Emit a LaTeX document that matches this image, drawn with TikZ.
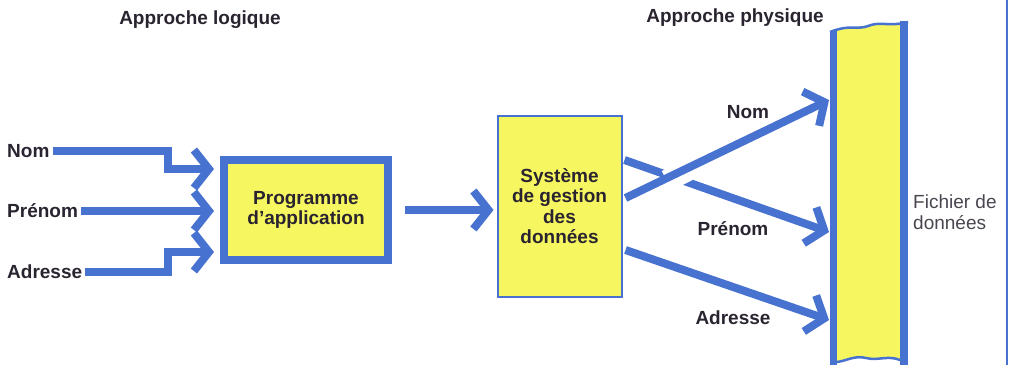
\documentclass[tikz,border=0pt]{standalone}
\usepackage{fontspec}
\setmainfont{Liberation Sans}
\usetikzlibrary{positioning,calc,arrows.meta}
\definecolor{dblue}{RGB}{72,114,208}
\definecolor{dyellow}{RGB}{246,246,96}
\definecolor{dtext}{RGB}{42,36,48}
\tikzset{
	flow/.style={line width=8pt, dblue, -{Straight Barb[length=15pt, width=38pt]}},
	word/.style={font=\fontsize{19}{21}\selectfont\bfseries, text=dtext, inner sep=3pt},
	box/.style={draw=dblue, fill=dyellow, align=center, font=\fontsize{19}{20.5}\selectfont\bfseries, text=dtext}
}
\begin{document}
\begin{tikzpicture}[x=1pt, y=-1pt]
						\useasboundingbox (0,0) rectangle (1011,365);
						\node[word] (tlog) at (200,20) {Approche logique};
						\node[word] (tphy) at (735,18) {Approche physique};
						\node[word, anchor=west] (nom) at (4,151) {Nom};
						\node[word, anchor=west] (pre) at (4,211) {Prénom};
						\node[word, anchor=west] (adr) at (4,272) {Adresse};
						\node[box, line width=8pt, minimum width=164pt, minimum height=100pt] (prog) at (306,210) {Programme\\d'application};
						\node[box, line width=2pt, minimum width=124pt, minimum height=181pt] (sgd) at (559.5,206) {Système\\de gestion\\des\\données};
						\fill[dyellow] (837,365) -- (837,30) .. controls (850,24) and (858,30) .. (868,26) .. controls (880,21) and (890,27) .. (900,24) -- (900,360) .. controls (888,355) and (878,361) .. (866,358) .. controls (855,355) and (846,361) .. (837,362) -- cycle;
						\draw[dblue, line width=7pt] (833.5,365) -- (833.5,31);
						\draw[dblue, line width=8pt] (904,365) -- (904,21);
						\draw[dblue, line width=2.5pt] (830,32) .. controls (850,24) and (858,30) .. (868,26) .. controls (880,21) and (890,27) .. (908,22);
						\draw[dblue, line width=2.5pt] (837,362) .. controls (846,361) and (855,355) .. (866,358) .. controls (878,361) and (888,355) .. (900,360);
						\node[font=\fontsize{19}{21}\selectfont, text=dtext!85, align=left, anchor=west, inner sep=0pt] (fich) at (913,212) {Fichier de\\données};
						\draw[dblue, line width=1.5pt] (1007,0) -- (1007,365);
						\coordinate (fnom) at (829,100);
						\coordinate (fpre) at (829,232);
						\coordinate (fadr) at (829,320);
						\draw[flow] (nom.east) -| ($(prog.west)+(-52,-41)$) -- ($(prog.west)+(-6,-41)$);
						\draw[flow] (pre.east) -- ([xshift=-6pt]pre.east -| prog.west);
						\draw[flow] (adr.east) -| ($(prog.west)+(-52,42)$) -- ($(prog.west)+(-6,42)$);
						\draw[flow] ([xshift=13pt]prog.east) -- ([xshift=-3pt]prog.east -| sgd.west);
						\draw[flow] ($(sgd.east)+(2,-46)$) -- (fpre);
						\draw[white, line width=22pt] ($(sgd.east)!0.2!(fnom)+(3,-4)$) -- ($(sgd.east)!0.34!(fnom)+(3,-4)$);
						\draw[flow] ($(sgd.east)+(3,-8)$) -- (fnom);
						\draw[flow] ($(sgd.east)+(3,44)$) -- (fadr);
						\node[word] (lnom) at (748,112) {Nom};
						\node[word] (lpre) at (733,229) {Prénom};
						\node[word] (ladr) at (733,318) {Adresse};
					\end{tikzpicture}
\end{document}
